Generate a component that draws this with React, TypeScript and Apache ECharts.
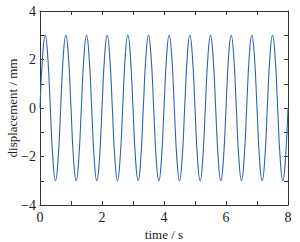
import React, { useEffect, useRef } from "react";
import * as echarts from "echarts";

// time samples (s), 1/12 s apart
const timeS: number[] = [
  0, 0.083, 0.167, 0.25, 0.333, 0.417, 0.5, 0.583, 0.667, 0.75, 0.833, 0.917,
  1, 1.083, 1.167, 1.25, 1.333, 1.417, 1.5, 1.583, 1.667, 1.75, 1.833, 1.917,
  2, 2.083, 2.167, 2.25, 2.333, 2.417, 2.5, 2.583, 2.667, 2.75, 2.833, 2.917,
  3, 3.083, 3.167, 3.25, 3.333, 3.417, 3.5, 3.583, 3.667, 3.75, 3.833, 3.917,
  4, 4.083, 4.167, 4.25, 4.333, 4.417, 4.5, 4.583, 4.667, 4.75, 4.833, 4.917,
  5, 5.083, 5.167, 5.25, 5.333, 5.417, 5.5, 5.583, 5.667, 5.75, 5.833, 5.917,
  6, 6.083, 6.167, 6.25, 6.333, 6.417, 6.5, 6.583, 6.667, 6.75, 6.833, 6.917,
  7, 7.083, 7.167, 7.25, 7.333, 7.417, 7.5, 7.583, 7.667, 7.75, 7.833, 7.917,
  8,
];

// displacement (mm)
const displacementMm: number[] = [
  0, 2.12, 3, 2.12, 0, -2.12, -3, -2.12, 0, 2.12, 3, 2.12,
  0, -2.12, -3, -2.12, 0, 2.12, 3, 2.12, 0, -2.12, -3, -2.12,
  0, 2.12, 3, 2.12, 0, -2.12, -3, -2.12, 0, 2.12, 3, 2.12,
  0, -2.12, -3, -2.12, 0, 2.12, 3, 2.12, 0, -2.12, -3, -2.12,
  0, 2.12, 3, 2.12, 0, -2.12, -3, -2.12, 0, 2.12, 3, 2.12,
  0, -2.12, -3, -2.12, 0, 2.12, 3, 2.12, 0, -2.12, -3, -2.12,
  0, 2.12, 3, 2.12, 0, -2.12, -3, -2.12, 0, 2.12, 3, 2.12,
  0, -2.12, -3, -2.12, 0, 2.12, 3, 2.12, 0, -2.12, -3, -2.12,
  0,
];

const xTickLabels = ["0", "2", "4", "6", "8"];
const yTickLabels = ["−4", "−2", "0", "2", "4"];

const FONT = "'Times New Roman', 'Liberation Serif', 'DejaVu Serif', serif";
const AXIS = "#333333";

export default function App() {
  const ref = useRef<HTMLDivElement>(null);
  useEffect(() => {
    if (!ref.current) return;
    const chart = echarts.init(ref.current, undefined, { renderer: "svg" });
    const xLabel = (v: number) => {
      const i = xTickLabels.indexOf(String(v));
      return i >= 0 ? xTickLabels[i] : "";
    };
    const yLabel = (v: number) => {
      if (v % 2 !== 0) return "";
      const idx = (v + 4) / 2;
      return yTickLabels[idx] ?? "";
    };
    const common = {
      type: "value" as const,
      axisLine: { show: true, onZero: false, lineStyle: { color: AXIS, width: 1 } },
      axisTick: { show: true, inside: true, length: 4, lineStyle: { color: AXIS } },
      splitLine: { show: false },
    };
    chart.setOption({
      animation: false,
      textStyle: { fontFamily: FONT },
      grid: { left: 40, right: 12, top: 11, bottom: 37, containLabel: false, outerBoundsMode: "none" },
      xAxis: [
        {
          ...common,
          min: 0,
          max: 8,
          interval: 1,
          name: "time / s",
          nameLocation: "middle",
          nameGap: 23,
          nameMoveOverlap: false,
          nameTextStyle: { fontFamily: FONT, fontSize: 13, color: "#222" },
          axisLabel: { formatter: xLabel, fontFamily: FONT, fontSize: 14, color: "#222", margin: 5 },
        },
        {
          ...common,
          position: "top",
          min: 0,
          max: 8,
          interval: 1,
          axisLabel: { show: false },
        },
      ],
      yAxis: [
        {
          ...common,
          min: -4,
          max: 4,
          interval: 1,
          name: "displacement / mm",
          nameLocation: "middle",
          nameGap: 21,
          nameMoveOverlap: false,
          nameTextStyle: { fontFamily: FONT, fontSize: 13, color: "#222", padding: 0 },
          axisLabel: { formatter: yLabel, fontFamily: FONT, fontSize: 14, color: "#222", margin: 4 },
        },
        {
          ...common,
          position: "right",
          min: -4,
          max: 4,
          interval: 1,
          axisLabel: { show: false },
        },
      ],
      series: [
        {
          type: "line",
          data: timeS.map((t, i) => [t, displacementMm[i]]),
          smooth: 0.5,
          showSymbol: false,
          lineStyle: { color: "#2e63b0", width: 1.1 },
        },
      ],
    });
    return () => chart.dispose();
  }, []);
  return (
    <div
      ref={ref}
      style={{ position: "fixed", left: 0, top: 0, width: 300, height: 242, background: "#fff" }}
    />
  );
}
